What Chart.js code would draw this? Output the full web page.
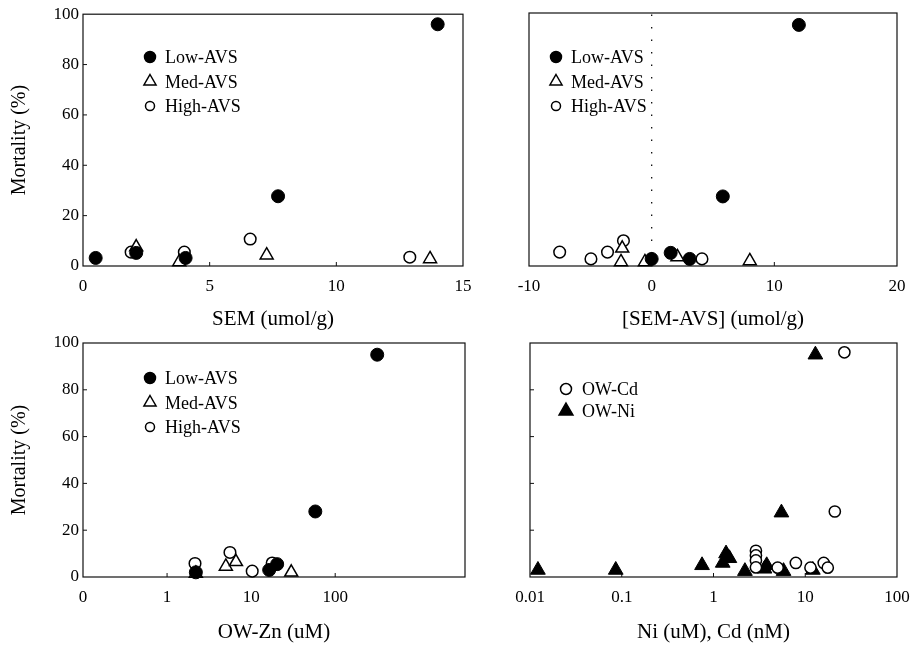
<!DOCTYPE html>
<html>
<head>
<meta charset="utf-8">
<script src="https://cdn.jsdelivr.net/npm/chart.js@4.4.1/dist/chart.umd.min.js"></script>
<style>
  body { margin: 0; background: #fff; width: 911px; height: 646px; position: relative; overflow: hidden; }
  canvas { position: absolute; }
</style>
</head>
<body>
<canvas id="semChart" width="500" height="340" style="left:0;top:0"></canvas>
<canvas id="diffChart" width="480" height="340" style="left:470px;top:0"></canvas>
<canvas id="znChart" width="500" height="326" style="left:0;top:320px"></canvas>
<canvas id="metalChart" width="480" height="326" style="left:470px;top:320px"></canvas>
<script>
// --- data ---
const semLowX = [0.5, 2.1, 4.05, 7.7, 14.0];
const semLowY = [3.2, 5.2, 3.2, 27.7, 96];
const semMedX = [2.1, 3.8, 7.25, 13.7];
const semMedY = [7.5, 1.6, 4.3, 2.8];
const semHighX = [1.9, 4.0, 6.6, 12.9];
const semHighY = [5.5, 5.5, 10.7, 3.5];

const diffLowX = [0.0, 1.55, 3.1, 5.8, 12.0];
const diffLowY = [2.8, 5.2, 2.8, 27.5, 95.3];
const diffMedX = [-2.4, -2.5, -0.55, 2.1, 8.0];
const diffMedY = [7, 1.6, 1.6, 3.6, 2.0];
const diffHighX = [-7.5, -4.95, -3.6, -2.3, 4.1];
const diffHighY = [5.5, 2.8, 5.5, 10.0, 2.8];

const znLowX = [2.2, 16.4, 20.4, 58, 316];
const znLowY = [2.0, 3.0, 5.5, 28, 95];
const znMedX = [2.2, 5.0, 6.6, 30];
const znMedY = [1.5, 4.5, 6.5, 2.0];
const znHighX = [2.15, 5.6, 10.3, 17.8];
const znHighY = [5.8, 10.5, 2.5, 6.0];

const cdX = [2.9, 2.9, 2.9, 2.9, 5.0, 7.9, 11.4, 15.9, 17.6, 21, 26.7];
const cdY = [11.2, 9.2, 7.1, 4.1, 4.0, 6.0, 4.0, 6.0, 4.0, 28, 96];
const niX = [0.0122, 0.086, 0.75, 1.26, 1.37, 1.49, 2.2, 3.6, 3.8, 5.8, 12.1, 5.5, 12.9];
const niY = [3.0, 3.0, 5.0, 6.0, 10.0, 8.0, 2.5, 3.5, 5.0, 2.5, 3.0, 27.5, 95];

// --- tick values and labels ---
const mortTicks = [0, 20, 40, 60, 80, 100];
const semTicks = [0, 5, 10, 15];
const diffTicks = [-10, 0, 10, 20];
const znTicks = [0.1, 1, 10, 100];
const znTickLabels = ["0", "1", "10", "100"];
const metalTicks = [0.01, 0.1, 1, 10, 100];
const metalTickLabels = ["0.01", "0.1", "1", "10", "100"];

Chart.defaults.font.family = "'Liberation Serif', 'Times New Roman', serif";
Chart.defaults.color = "#000";

function pts(xs, ys) {
  return xs.map((x, i) => ({ x: x, y: ys[i] }));
}

const styles = {
  filledCircle: { pointStyle: "circle", pointRadius: 6.5, backgroundColor: "#000", borderColor: "#000", borderWidth: 1, legendR: 5.5, fill: "#000" },
  openTriangle: { pointStyle: "triangle", pointRadius: 7.5, backgroundColor: "#fff", borderColor: "#000", borderWidth: 1.5, legendR: 7, fill: "#fff" },
  openCircle: { pointStyle: "circle", pointRadius: 5.8, backgroundColor: "#fff", borderColor: "#000", borderWidth: 1.5, legendR: 4.5, fill: "#fff" },
  cdCircle: { pointStyle: "circle", pointRadius: 5.6, backgroundColor: "#fff", borderColor: "#000", borderWidth: 1.5, legendR: 5.5, fill: "#fff" },
  filledTriangle: { pointStyle: "triangle", pointRadius: 8.5, backgroundColor: "#000", borderColor: "#000", borderWidth: 1, legendR: 8, fill: "#000" },
};

function dataset(label, xs, ys, st) {
  return Object.assign({ label: label, data: pts(xs, ys), clip: false, showLine: false }, st);
}

function drawMarker(ctx, shape, x, y, r, fill) {
  ctx.beginPath();
  if (shape === "circle") {
    ctx.arc(x, y, r, 0, Math.PI * 2);
  } else {
    ctx.moveTo(x, y - r);
    ctx.lineTo(x + r * 0.866, y + r / 2);
    ctx.lineTo(x - r * 0.866, y + r / 2);
    ctx.closePath();
  }
  ctx.fillStyle = fill;
  ctx.fill();
  ctx.lineWidth = 1.5;
  ctx.strokeStyle = "#000";
  ctx.stroke();
}

// box, inward ticks, dotted zero line and inner legend
const framePlugin = {
  id: "frame",
  beforeDatasetsDraw(chart, args, opts) {
    const { ctx, chartArea: a, scales } = chart;
    ctx.save();
    ctx.strokeStyle = "#111";
    ctx.lineWidth = 1.2;
    ctx.strokeRect(a.left, a.top, a.right - a.left, a.bottom - a.top);

    ctx.lineWidth = 1;
    ctx.beginPath();
    scales.x.ticks.forEach(t => {
      const px = scales.x.getPixelForValue(t.value);
      if (px > a.left + 2 && px < a.right - 2) {
        ctx.moveTo(px, a.bottom);
        ctx.lineTo(px, a.bottom - 4);
      }
    });
    if (opts.yTicks) {
      scales.y.ticks.forEach(t => {
        const py = scales.y.getPixelForValue(t.value);
        if (py > a.top + 2 && py < a.bottom - 2) {
          ctx.moveTo(a.left, py);
          ctx.lineTo(a.left + 4, py);
        }
      });
    }
    ctx.stroke();

    if (opts.zeroLine) {
      const px = scales.x.getPixelForValue(0);
      ctx.setLineDash([1.5, 11]);
      ctx.lineWidth = 1.3;
      ctx.beginPath();
      ctx.moveTo(px, a.bottom);
      ctx.lineTo(px, a.top);
      ctx.stroke();
      ctx.setLineDash([]);
    }

    const lg = opts.legend;
    if (lg) {
      ctx.font = "18px 'Liberation Serif', 'Times New Roman', serif";
      ctx.textAlign = "left";
      ctx.textBaseline = "alphabetic";
      chart.data.datasets.forEach((d, i) => {
        const y = lg.y + i * lg.dy;
        drawMarker(ctx, d.pointStyle, lg.x, y, d.legendR, d.fill);
        ctx.fillStyle = "#000";
        ctx.fillText(d.label, lg.textX, y + 6);
      });
    }
    ctx.restore();
  },
};

function makeChart(id, datasets, cfg) {
  const xScale = {
    type: cfg.xType,
    min: cfg.xMin,
    max: cfg.xMax,
    afterBuildTicks: s => { s.ticks = cfg.xTicks.map(v => ({ value: v })); },
    ticks: {
      font: { size: 17 },
      padding: 10,
      maxRotation: 0,
      autoSkip: false,
      callback: (v, i) => cfg.xLabels ? cfg.xLabels[i] : String(cfg.xTicks[i]),
    },
    grid: { display: false, drawTicks: false },
    border: { display: false },
    title: { display: true, text: cfg.xTitle, font: { size: 21 }, padding: { top: 0, bottom: cfg.titlePad } },
    afterFit: s => { s.height = cfg.xH; },
  };
  const yScale = {
    type: "linear",
    min: 0,
    max: 100,
    afterBuildTicks: s => { s.ticks = mortTicks.map(v => ({ value: v })); },
    ticks: { display: cfg.yLabels, font: { size: 17 }, padding: 4 },
    grid: { display: false, drawTicks: false },
    border: { display: false },
    title: { display: cfg.yLabels, text: "Mortality (%)", font: { size: 20 }, padding: { top: 8, bottom: 0 } },
    afterFit: s => { s.width = cfg.yW; },
  };
  return new Chart(document.getElementById(id), {
    type: "scatter",
    data: { datasets: datasets },
    options: {
      responsive: false,
      animation: false,
      devicePixelRatio: 1,
      layout: { padding: cfg.pad },
      scales: { x: xScale, y: yScale },
      plugins: {
        legend: { display: false },
        tooltip: { enabled: false },
        frame: { yTicks: cfg.yTickMarks, zeroLine: cfg.zeroLine, legend: cfg.legend },
      },
    },
    plugins: [framePlugin],
  });
}

makeChart("semChart", [
  dataset("Low-AVS", semLowX, semLowY, styles.filledCircle),
  dataset("Med-AVS", semMedX, semMedY, styles.openTriangle),
  dataset("High-AVS", semHighX, semHighY, styles.openCircle),
], {
  xType: "linear", xMin: 0, xMax: 15, xTicks: semTicks, xTitle: "SEM (umol/g)",
  titlePad: 8, xH: 74, yW: 83, yLabels: true, yTickMarks: true,
  pad: { left: 0, top: 13, right: 37, bottom: 0 },
  legend: { x: 150, textX: 165, y: 57, dy: 24.5 },
});

makeChart("diffChart", [
  dataset("Low-AVS", diffLowX, diffLowY, styles.filledCircle),
  dataset("Med-AVS", diffMedX, diffMedY, styles.openTriangle),
  dataset("High-AVS", diffHighX, diffHighY, styles.openCircle),
], {
  xType: "linear", xMin: -10, xMax: 20, xTicks: diffTicks, xTitle: "[SEM-AVS] (umol/g)",
  titlePad: 8, xH: 74, yW: 59, yLabels: false, yTickMarks: false, zeroLine: true,
  pad: { left: 0, top: 13, right: 53, bottom: 0 },
  legend: { x: 86, textX: 101, y: 57, dy: 24.5 },
});

makeChart("znChart", [
  dataset("Low-AVS", znLowX, znLowY, styles.filledCircle),
  dataset("Med-AVS", znMedX, znMedY, styles.openTriangle),
  dataset("High-AVS", znHighX, znHighY, styles.openCircle),
], {
  xType: "logarithmic", xMin: 0.1, xMax: 3500, xTicks: znTicks, xLabels: znTickLabels, xTitle: "OW-Zn (uM)",
  titlePad: 1, xH: 69, yW: 83, yLabels: true, yTickMarks: true,
  pad: { left: 0, top: 23, right: 35, bottom: 0 },
  legend: { x: 150, textX: 165, y: 58, dy: 24.5 },
});

makeChart("metalChart", [
  dataset("OW-Cd", cdX, cdY, styles.cdCircle),
  dataset("OW-Ni", niX, niY, styles.filledTriangle),
], {
  xType: "logarithmic", xMin: 0.01, xMax: 100, xTicks: metalTicks, xLabels: metalTickLabels, xTitle: "Ni (uM), Cd (nM)",
  titlePad: 1, xH: 69, yW: 60, yLabels: false, yTickMarks: true,
  pad: { left: 0, top: 23, right: 53, bottom: 0 },
  legend: { x: 96, textX: 112, y: 69, dy: 22 },
});
</script>
</body>
</html>
